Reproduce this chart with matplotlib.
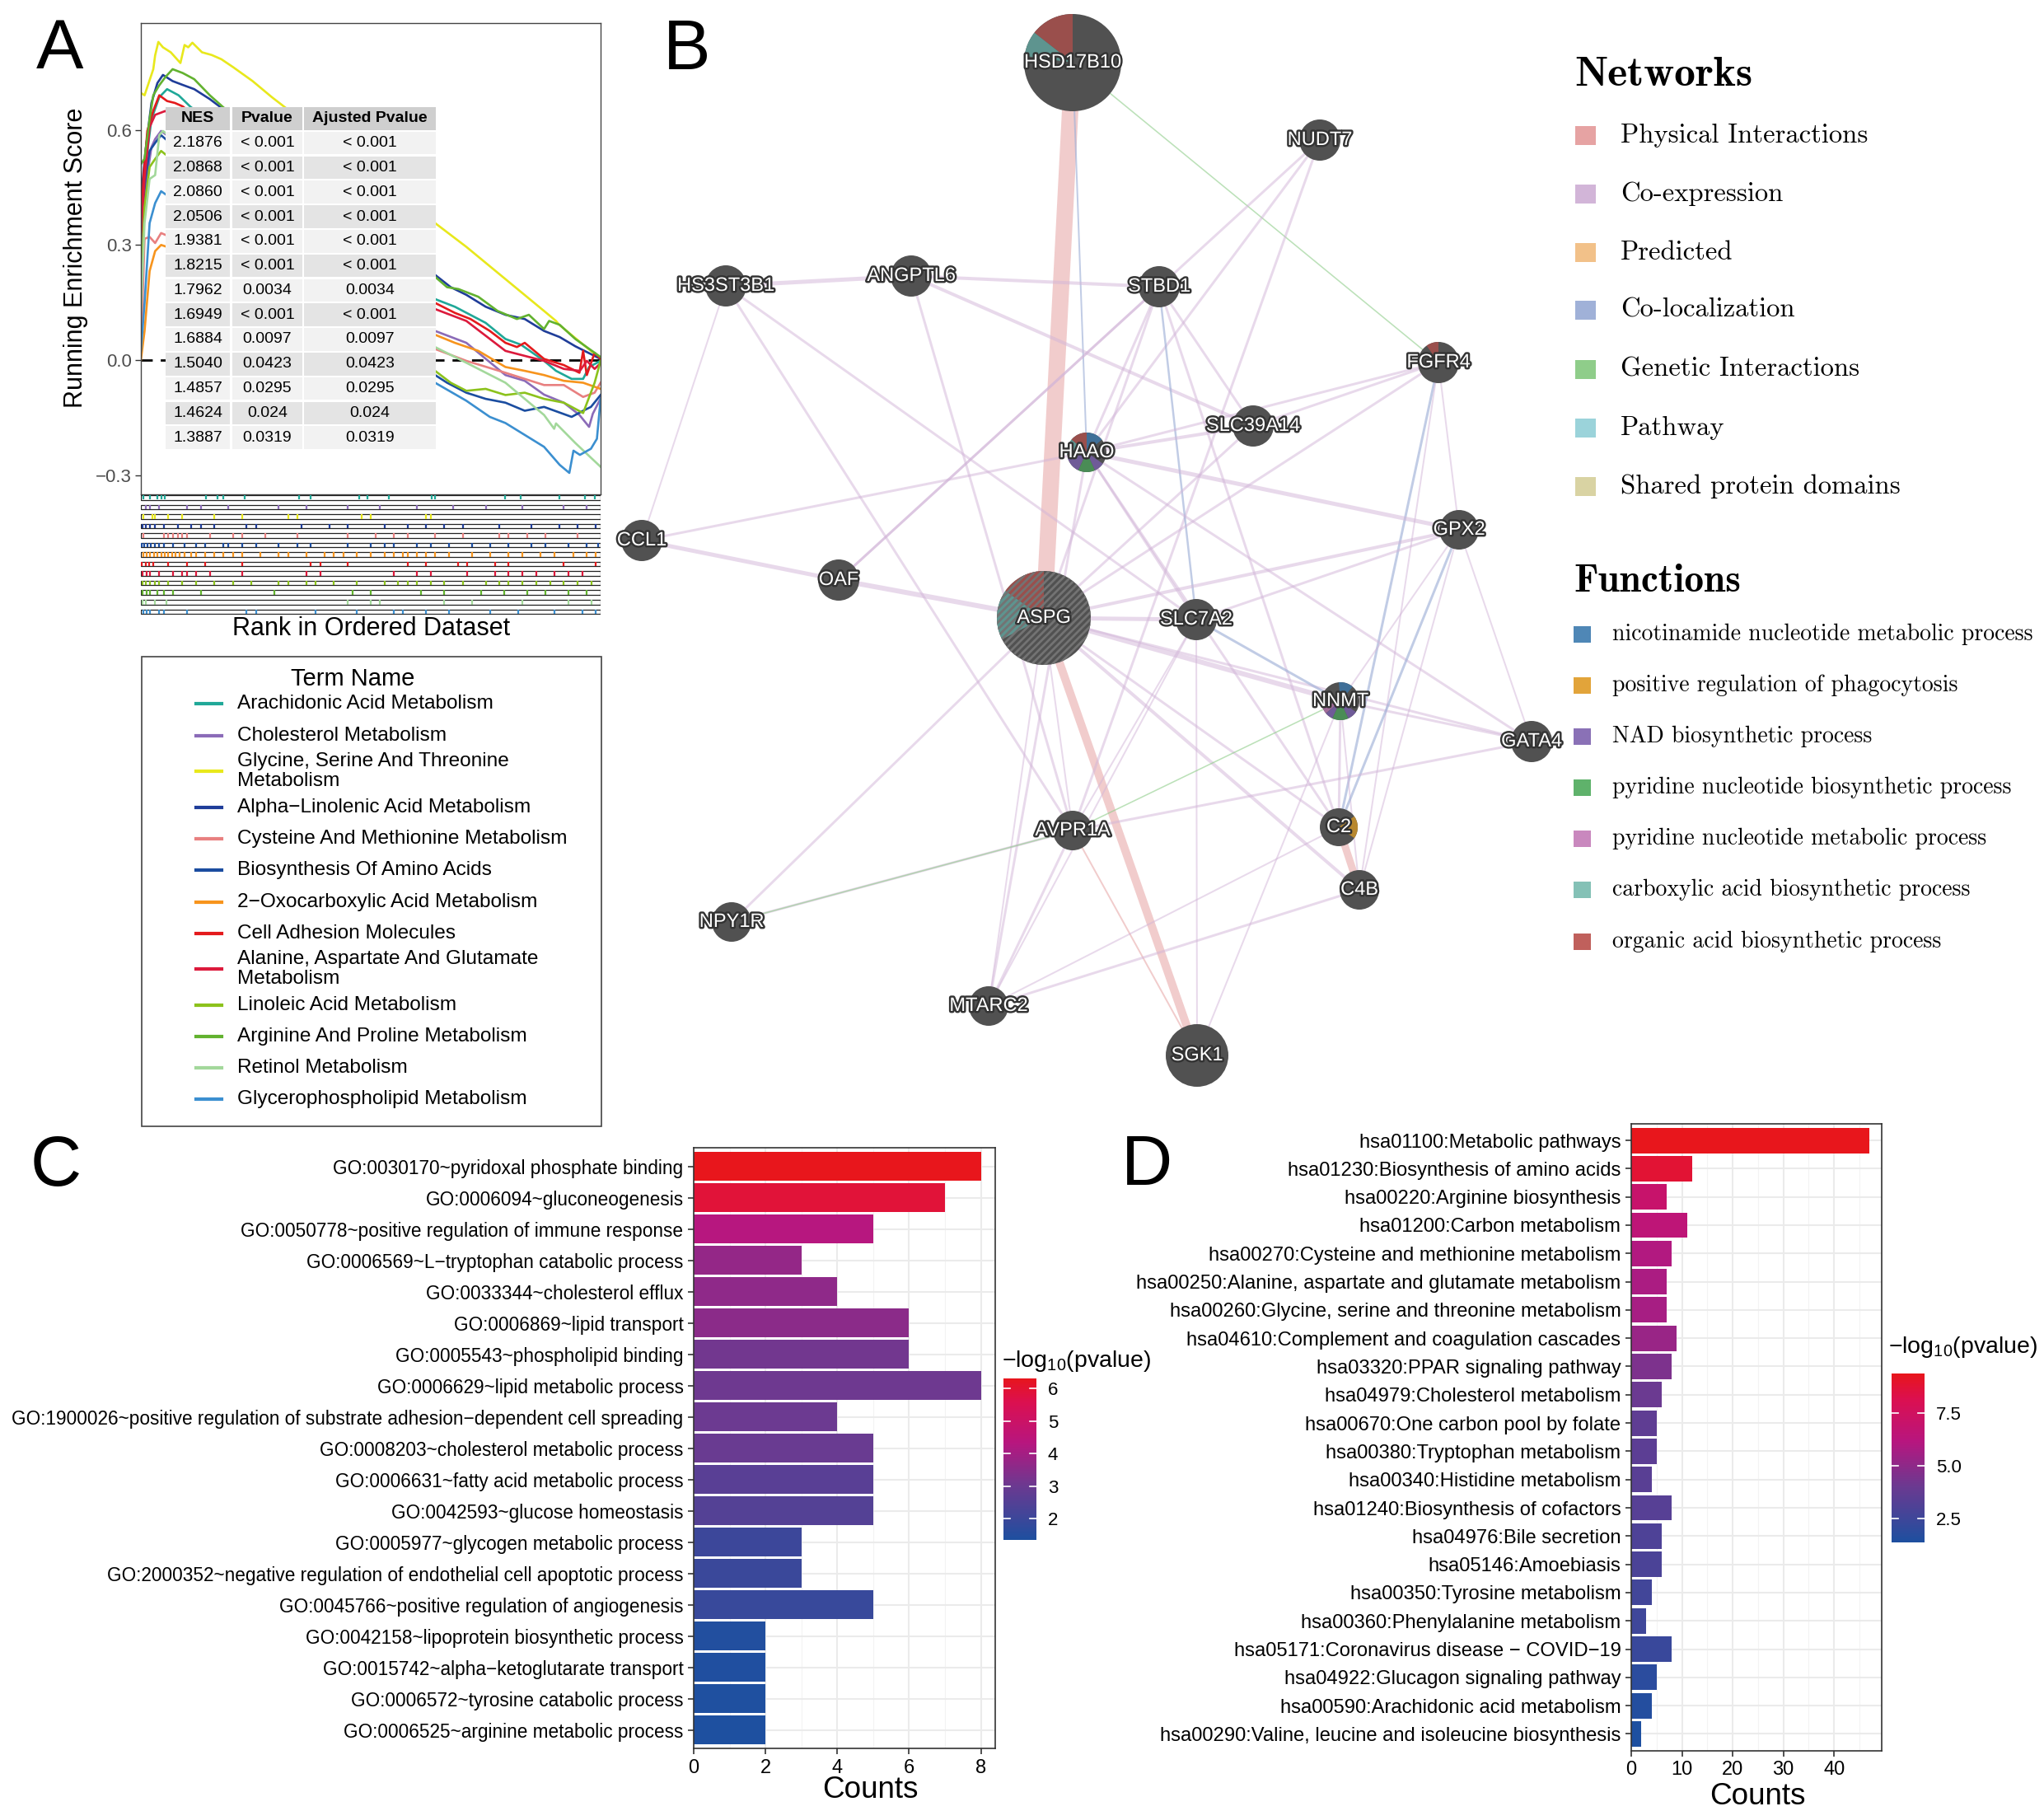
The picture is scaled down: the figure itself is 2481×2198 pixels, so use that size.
import matplotlib
matplotlib.use("Agg")
import matplotlib.pyplot as plt
import numpy as np
from matplotlib import font_manager as fm
from matplotlib.patches import Rectangle, Circle, Wedge
from matplotlib.colors import LinearSegmentedColormap, Normalize
import matplotlib.patheffects as pe

# ---------------- DATA ----------------
# Panel A: GSEA running enrichment scores (rank fraction, ES) per term
term_names = ["Arachidonic Acid Metabolism", "Cholesterol Metabolism",
              "Glycine, Serine And Threonine\nMetabolism", "Alpha\u2212Linolenic Acid Metabolism",
              "Cysteine And Methionine Metabolism", "Biosynthesis Of Amino Acids",
              "2\u2212Oxocarboxylic Acid Metabolism", "Cell Adhesion Molecules",
              "Alanine, Aspartate And Glutamate\nMetabolism", "Linoleic Acid Metabolism",
              "Arginine And Proline Metabolism", "Retinol Metabolism",
              "Glycerophospholipid Metabolism"]
term_colors = ['#20a898', '#8b6bb8', '#e8e81c', '#1f3d99', '#e88080', '#1b4da0', '#f7941d',
               '#e41a1c', '#dc1a3c', '#8cc21c', '#62b22f', '#a3d89b', '#3b8fd0']

es_x = [
    [0, 0.010, 0.023, 0.040, 0.057, 0.082, 0.107, 0.640, 0.683, 0.750, 0.793, 0.827, 0.877, 0.903, 0.937, 0.962, 0.975, 1.0],
    [0, 0.010, 0.023, 0.031, 0.044, 0.640, 0.708, 0.793, 0.835, 0.877, 0.920, 0.954, 0.975, 0.983, 1.0],
    [0, 0.008, 0.027, 0.031, 0.038, 0.048, 0.065, 0.086, 0.095, 0.103, 0.112, 0.133, 0.154, 0.175, 0.201, 0.243, 0.285, 0.640, 0.708, 0.793, 0.877, 0.903, 0.910, 1.0],
    [0, 0.010, 0.023, 0.036, 0.048, 0.069, 0.091, 0.116, 0.150, 0.171, 0.640, 0.674, 0.708, 0.750, 0.793, 0.835, 0.877, 0.911, 0.945, 1.0],
    [0, 0.008, 0.019, 0.031, 0.044, 0.640, 0.708, 0.793, 0.877, 0.920, 0.962, 0.987, 1.0],
    [0, 0.010, 0.019, 0.031, 0.044, 0.640, 0.666, 0.708, 0.750, 0.793, 0.835, 0.877, 0.937, 0.962, 0.979, 1.0],
    [0, 0.008, 0.019, 0.031, 0.044, 0.640, 0.683, 0.734, 0.793, 0.835, 0.877, 0.920, 0.962, 1.0],
    [0, 0.006, 0.014, 0.027, 0.040, 0.057, 0.074, 0.091, 0.640, 0.683, 0.717, 0.759, 0.793, 0.818, 0.835, 0.877, 0.920, 0.954, 0.962, 0.970, 0.987, 1.0],
    [0, 0.008, 0.019, 0.031, 0.053, 0.640, 0.708, 0.793, 0.877, 0.920, 0.955, 0.970, 0.987, 1.0],
    [0, 0.008, 0.019, 0.031, 0.044, 0.640, 0.674, 0.708, 0.750, 0.793, 0.835, 0.877, 0.920, 0.962, 0.987, 1.0],
    [0, 0.008, 0.019, 0.027, 0.040, 0.053, 0.069, 0.091, 0.116, 0.150, 0.179, 0.640, 0.666, 0.691, 0.734, 0.776, 0.818, 0.844, 0.877, 0.888, 0.911, 0.945, 1.0],
    [0, 0.008, 0.019, 0.031, 0.040, 0.048, 0.640, 0.708, 0.793, 0.877, 0.899, 0.903, 0.945, 1.0],
    [0, 0.008, 0.019, 0.031, 0.044, 0.640, 0.708, 0.759, 0.793, 0.835, 0.877, 0.911, 0.932, 0.941, 0.955, 0.979, 0.992, 1.0],
]
es_y = [
    [0.264, 0.503, 0.628, 0.685, 0.706, 0.690, 0.661, 0.159, 0.139, 0.097, 0.055, 0.040, -0.002, -0.028, -0.049, -0.049, -0.018, -0.002],
    [0.211, 0.451, 0.555, 0.576, 0.597, 0.076, 0.045, -0.039, -0.054, -0.090, -0.111, -0.143, -0.174, -0.140, -0.100],
    [0.696, 0.690, 0.758, 0.794, 0.829, 0.815, 0.802, 0.774, 0.821, 0.815, 0.827, 0.802, 0.795, 0.784, 0.763, 0.727, 0.685, 0.357, 0.295, 0.211, 0.128, 0.102, 0.092, 0.003],
    [0.420, 0.545, 0.670, 0.722, 0.743, 0.727, 0.717, 0.706, 0.680, 0.661, 0.222, 0.190, 0.170, 0.139, 0.118, 0.107, 0.076, 0.060, 0.036, 0.003],
    [0.024, 0.316, 0.321, 0.305, 0.331, 0.029, -0.002, -0.033, -0.065, -0.065, -0.096, -0.085, -0.059],
    [0.357, 0.472, 0.545, 0.566, 0.586, -0.039, -0.059, -0.085, -0.101, -0.111, -0.132, -0.122, -0.148, -0.132, -0.122, -0.091],
    [0.0, 0.076, 0.232, 0.284, 0.300, 0.066, 0.045, 0.024, -0.018, -0.028, -0.039, -0.054, -0.059, -0.075],
    [0.357, 0.480, 0.597, 0.650, 0.690, 0.675, 0.670, 0.661, 0.149, 0.123, 0.107, 0.076, 0.045, 0.034, 0.045, 0.003, -0.013, -0.033, 0.024, -0.039, 0.019, 0.003],
    [0.316, 0.472, 0.607, 0.639, 0.649, 0.133, 0.102, 0.024, -0.002, -0.023, -0.028, -0.002, -0.023, -0.008],
    [0.190, 0.399, 0.503, 0.524, 0.545, -0.028, -0.059, -0.080, -0.075, -0.091, -0.085, -0.101, -0.111, -0.138, -0.059, -0.002],
    [0.510, 0.525, 0.628, 0.690, 0.716, 0.737, 0.758, 0.748, 0.732, 0.690, 0.659, 0.217, 0.190, 0.185, 0.165, 0.128, 0.107, 0.118, 0.081, 0.102, 0.092, 0.055, 0.008],
    [0.128, 0.357, 0.472, 0.482, 0.586, 0.597, 0.034, -0.007, -0.059, -0.143, -0.179, -0.165, -0.216, -0.278],
    [0.024, 0.149, 0.357, 0.409, 0.440, -0.059, -0.106, -0.148, -0.164, -0.195, -0.226, -0.273, -0.294, -0.236, -0.247, -0.231, -0.205, -0.101],
]
# gene hit positions (rank fraction) per term
hits = [
    [0.006, 0.019, 0.036, 0.044, 0.052, 0.141, 0.167, 0.179, 0.226, 0.344, 0.37, 0.475, 0.492, 0.539, 0.632, 0.64, 0.793, 0.827, 0.911, 0.966, 0.987],
    [0.01, 0.02, 0.04, 0.1, 0.13, 0.19, 0.3, 0.36, 0.45, 0.52, 0.6, 0.68, 0.75, 0.83, 0.92, 0.97],
    [0.005, 0.025, 0.03, 0.06, 0.09, 0.16, 0.22, 0.32, 0.34, 0.48, 0.5, 0.62, 0.63],
    [0.003, 0.01, 0.02, 0.03, 0.05, 0.08, 0.11, 0.13, 0.16, 0.23, 0.25, 0.35, 0.41, 0.45, 0.53, 0.58, 0.62, 0.66, 0.7, 0.78, 0.85, 0.91, 0.95, 0.99],
    [0.005, 0.05, 0.06, 0.07, 0.08, 0.09, 0.1, 0.15, 0.2, 0.22, 0.27, 0.34, 0.45, 0.51, 0.55, 0.58, 0.64, 0.7, 0.78, 0.8, 0.84, 0.88, 0.95],
    [0.002, 0.008, 0.015, 0.022, 0.03, 0.04, 0.05, 0.07, 0.095, 0.12, 0.14, 0.18, 0.19, 0.22, 0.25, 0.3, 0.34, 0.37, 0.45, 0.5, 0.53, 0.55, 0.6, 0.63, 0.67, 0.72, 0.76, 0.8, 0.85, 0.88, 0.93, 0.97, 0.995],
    [0.005, 0.012, 0.02, 0.028, 0.036, 0.044, 0.052, 0.06, 0.068, 0.076, 0.085, 0.095, 0.11, 0.12, 0.14, 0.16, 0.18, 0.2, 0.22, 0.26, 0.3, 0.32, 0.36, 0.4, 0.42, 0.44, 0.47, 0.5, 0.53, 0.55, 0.57, 0.58, 0.6, 0.62, 0.64, 0.67, 0.72, 0.76, 0.8, 0.83, 0.87, 0.9, 0.94, 0.97, 0.99],
    [0.002, 0.01, 0.018, 0.026, 0.06, 0.1, 0.14, 0.22, 0.37, 0.39, 0.45, 0.58, 0.62, 0.69, 0.71, 0.77, 0.8, 0.92, 0.99],
    [0.004, 0.012, 0.02, 0.04, 0.07, 0.09, 0.1, 0.12, 0.15, 0.22, 0.36, 0.39, 0.55, 0.6, 0.63, 0.71, 0.77, 0.8, 0.83, 0.86, 0.9, 0.93, 0.96],
    [0.003, 0.01, 0.02, 0.03, 0.04, 0.06, 0.09, 0.12, 0.16, 0.2, 0.24, 0.3, 0.32, 0.36, 0.38, 0.42, 0.47, 0.53, 0.56, 0.58, 0.6, 0.63, 0.66, 0.7, 0.75, 0.78, 0.8, 0.83, 0.86, 0.89, 0.92, 0.95, 0.98],
    [0.004, 0.012, 0.02, 0.035, 0.05, 0.07, 0.13, 0.29, 0.46, 0.5, 0.61, 0.66, 0.74, 0.79, 0.84, 0.88, 0.93, 0.97],
    [0.003, 0.01, 0.03, 0.055, 0.45, 0.5, 0.52, 0.66, 0.72, 0.83, 0.93, 0.98],
    [0.005, 0.012, 0.02, 0.04, 0.05, 0.1, 0.23, 0.25, 0.38, 0.47, 0.55, 0.57, 0.62, 0.67, 0.76, 0.82, 0.9, 0.96, 0.99],
]
table_nes = ["2.1876", "2.0868", "2.0860", "2.0506", "1.9381", "1.8215", "1.7962", "1.6949",
             "1.6884", "1.5040", "1.4857", "1.4624", "1.3887"]
table_p = ["< 0.001", "< 0.001", "< 0.001", "< 0.001", "< 0.001", "< 0.001", "0.0034", "< 0.001",
           "0.0097", "0.0423", "0.0295", "0.024", "0.0319"]
table_padj = list(table_p)

# Panel B: network
node_names = ["HSD17B10", "NUDT7", "HS3ST3B1", "ANGPTL6", "STBD1", "FGFR4", "SLC39A14", "HAAO",
              "GPX2", "CCL1", "OAF", "ASPG", "SLC7A2", "NNMT", "GATA4", "C2", "AVPR1A", "C4B",
              "NPY1R", "MTARC2", "SGK1"]
node_x = [1302, 1602, 881, 1106, 1407, 1746, 1521, 1319, 1771, 779, 1018, 1267, 1452, 1627,
          1859, 1625, 1302, 1650, 888, 1200, 1453]
node_y = [76, 170, 347, 335, 348, 440, 517, 549, 643, 656, 704, 750, 752, 851, 900, 1004,
          1008, 1080, 1119, 1221, 1281]
node_size = [59, 25, 25, 25, 25, 25, 25, 24, 24, 25, 25, 57, 25, 23, 25, 23, 24, 24, 24, 24, 38]
edges = [
    ("HSD17B10", "ASPG", "Physical Interactions", 20), ("ASPG", "SGK1", "Physical Interactions", 10),
    ("C2", "C4B", "Physical Interactions", 9), ("AVPR1A", "SGK1", "Physical Interactions", 2),
    ("HSD17B10", "HAAO", "Co-localization", 2), ("HSD17B10", "FGFR4", "Genetic Interactions", 1.6),
    ("HS3ST3B1", "ANGPTL6", "Co-expression", 5), ("ANGPTL6", "STBD1", "Co-expression", 4),
    ("HS3ST3B1", "CCL1", "Co-expression", 2), ("HS3ST3B1", "SLC7A2", "Co-expression", 3),
    ("HS3ST3B1", "AVPR1A", "Co-expression", 3), ("ANGPTL6", "SLC39A14", "Co-expression", 4),
    ("ANGPTL6", "AVPR1A", "Co-expression", 3), ("NUDT7", "OAF", "Co-expression", 3),
    ("NUDT7", "HAAO", "Co-expression", 3), ("NUDT7", "AVPR1A", "Co-expression", 3),
    ("STBD1", "SLC39A14", "Co-expression", 3), ("STBD1", "SLC7A2", "Co-localization", 2.5),
    ("STBD1", "C2", "Co-expression", 3), ("STBD1", "ASPG", "Co-expression", 3),
    ("STBD1", "HAAO", "Co-expression", 3), ("OAF", "STBD1", "Co-expression", 3),
    ("FGFR4", "HAAO", "Co-expression", 3), ("FGFR4", "SLC39A14", "Co-expression", 3),
    ("FGFR4", "C2", "Co-localization", 3), ("FGFR4", "GPX2", "Co-expression", 2),
    ("FGFR4", "ASPG", "Co-expression", 3), ("FGFR4", "C4B", "Co-expression", 2),
    ("HAAO", "GPX2", "Co-expression", 5), ("HAAO", "GATA4", "Co-expression", 3),
    ("HAAO", "SLC39A14", "Co-expression", 4), ("HAAO", "CCL1", "Co-expression", 3),
    ("HAAO", "MTARC2", "Co-expression", 3), ("HAAO", "C2", "Co-expression", 3),
    ("HAAO", "SLC7A2", "Co-expression", 3), ("CCL1", "OAF", "Co-expression", 5),
    ("OAF", "ASPG", "Co-expression", 6), ("ASPG", "GPX2", "Co-expression", 4),
    ("ASPG", "NNMT", "Co-expression", 6), ("ASPG", "GATA4", "Co-expression", 3),
    ("ASPG", "C4B", "Co-expression", 4), ("ASPG", "SLC7A2", "Co-expression", 5),
    ("ASPG", "NPY1R", "Co-expression", 3), ("ASPG", "MTARC2", "Co-expression", 2),
    ("ASPG", "AVPR1A", "Co-expression", 2), ("ASPG", "C2", "Co-expression", 3),
    ("ASPG", "SLC39A14", "Co-expression", 3), ("SLC7A2", "NNMT", "Co-localization", 3),
    ("SLC7A2", "SGK1", "Co-expression", 2), ("SLC7A2", "GPX2", "Co-expression", 3),
    ("SLC7A2", "MTARC2", "Co-expression", 2), ("SLC7A2", "AVPR1A", "Co-expression", 2),
    ("NNMT", "GATA4", "Co-expression", 3), ("NNMT", "C2", "Co-expression", 3),
    ("NNMT", "C4B", "Co-expression", 2), ("NNMT", "AVPR1A", "Genetic Interactions", 1.6),
    ("NNMT", "SGK1", "Co-expression", 2), ("GPX2", "C2", "Co-localization", 3),
    ("GPX2", "NNMT", "Co-expression", 2), ("GPX2", "C4B", "Co-expression", 2),
    ("GPX2", "GATA4", "Co-expression", 2), ("GATA4", "AVPR1A", "Co-expression", 3),
    ("NPY1R", "AVPR1A", "Co-expression", 3), ("NPY1R", "AVPR1A", "Genetic Interactions", 1.6),
    ("MTARC2", "AVPR1A", "Co-expression", 3), ("MTARC2", "C4B", "Co-expression", 3),
    ("MTARC2", "C2", "Co-expression", 2),
]
network_types = ["Physical Interactions", "Co-expression", "Predicted", "Co-localization",
                 "Genetic Interactions", "Pathway", "Shared protein domains"]
network_colors = ['#e6a3a3', '#d2b5d8', '#f2c189', '#a0b1d8', '#8fcd8a', '#9bd3da', '#d9d3a3']
function_names = ["nicotinamide nucleotide metabolic process", "positive regulation of phagocytosis",
                  "NAD biosynthetic process", "pyridine nucleotide biosynthetic process",
                  "pyridine nucleotide metabolic process", "carboxylic acid biosynthetic process",
                  "organic acid biosynthetic process"]
function_colors = ['#4f87b6', '#e2a43a', '#8a71b6', '#5fb26b', '#c988be', '#84c1b6', '#c0605c']
pie_colors = ['#3f6f98', '#b8882f', '#6f5b98', '#4a8c56', '#a26c9a', '#5e948f', '#9a4f4c']
# (node, start deg, end deg, function index)
pie_slices = [("HSD17B10", 90, 142, 6), ("HSD17B10", 142, 172, 5),
              ("ASPG", 90, 145, 6), ("ASPG", 145, 207, 5),
              ("FGFR4", 90, 125, 6),
              ("HAAO", 40, 90, 0), ("HAAO", 90, 140, 6), ("HAAO", 140, 185, 5),
              ("HAAO", 195, 245, 2), ("HAAO", 245, 295, 3), ("HAAO", 295, 325, 2),
              ("NNMT", 50, 95, 0), ("NNMT", 195, 220, 4), ("NNMT", 220, 245, 2), ("NNMT", 245, 295, 3),
              ("NNMT", 295, 325, 2),
              ("C2", -35, 35, 1)]

# Panel C: GO terms
go_terms = ["GO:0030170~pyridoxal phosphate binding", "GO:0006094~gluconeogenesis",
            "GO:0050778~positive regulation of immune response", "GO:0006569~L\u2212tryptophan catabolic process",
            "GO:0033344~cholesterol efflux", "GO:0006869~lipid transport", "GO:0005543~phospholipid binding",
            "GO:0006629~lipid metabolic process",
            "GO:1900026~positive regulation of substrate adhesion\u2212dependent cell spreading",
            "GO:0008203~cholesterol metabolic process", "GO:0006631~fatty acid metabolic process",
            "GO:0042593~glucose homeostasis", "GO:0005977~glycogen metabolic process",
            "GO:2000352~negative regulation of endothelial cell apoptotic process",
            "GO:0045766~positive regulation of angiogenesis", "GO:0042158~lipoprotein biosynthetic process",
            "GO:0015742~alpha\u2212ketoglutarate transport", "GO:0006572~tyrosine catabolic process",
            "GO:0006525~arginine metabolic process"]
go_counts = [8, 7, 5, 3, 4, 6, 6, 8, 4, 5, 5, 5, 3, 3, 5, 2, 2, 2, 2]
go_logp = [6.32, 5.9, 4.3, 3.7, 3.6, 3.55, 3.1, 3.05, 3.0, 2.95, 2.6, 2.5, 2.0, 1.95, 1.9, 1.42, 1.39, 1.37, 1.34]

# Panel D: KEGG pathways
kegg_terms = ["hsa01100:Metabolic pathways", "hsa01230:Biosynthesis of amino acids",
              "hsa00220:Arginine biosynthesis", "hsa01200:Carbon metabolism",
              "hsa00270:Cysteine and methionine metabolism", "hsa00250:Alanine, aspartate and glutamate metabolism",
              "hsa00260:Glycine, serine and threonine metabolism", "hsa04610:Complement and coagulation cascades",
              "hsa03320:PPAR signaling pathway", "hsa04979:Cholesterol metabolism",
              "hsa00670:One carbon pool by folate", "hsa00380:Tryptophan metabolism",
              "hsa00340:Histidine metabolism", "hsa01240:Biosynthesis of cofactors",
              "hsa04976:Bile secretion", "hsa05146:Amoebiasis", "hsa00350:Tyrosine metabolism",
              "hsa00360:Phenylalanine metabolism", "hsa05171:Coronavirus disease \u2212 COVID\u221219",
              "hsa04922:Glucagon signaling pathway", "hsa00590:Arachidonic acid metabolism",
              "hsa00290:Valine, leucine and isoleucine biosynthesis"]
kegg_counts = [47, 12, 7, 11, 8, 7, 7, 9, 8, 6, 5, 5, 4, 8, 6, 6, 4, 3, 8, 5, 4, 2]
kegg_logp = [9.38, 8.8, 7.0, 6.5, 6.0, 5.8, 5.7, 5.3, 4.5, 4.0, 3.6, 3.5, 3.4, 3.3, 3.0, 2.9,
             2.6, 2.5, 2.3, 1.8, 1.6, 1.35]

# ---------------- STYLE / FONTS ----------------
W, H = 2481, 2198
names = {f.name for f in fm.fontManager.ttflist}
SANS = 'Liberation Sans' if 'Liberation Sans' in names else 'DejaVu Sans'
plt.rcParams['font.family'] = [SANS, 'DejaVu Sans']
plt.rcParams['mathtext.fontset'] = 'custom'
plt.rcParams['mathtext.rm'] = SANS
plt.rcParams['mathtext.it'] = SANS
plt.rcParams['hatch.linewidth'] = 2.0
PT = 0.72  # px -> pt at dpi 100

fig = plt.figure(figsize=(W / 100, H / 100), dpi=100)


def box(x0, y0, x1, y1):
    return [x0 / W, 1 - y1 / H, (x1 - x0) / W, (y1 - y0) / H]


# ---------------- PANEL A ----------------
axA = fig.add_axes(box(171, 27.6, 729, 599.6))
for i in range(len(term_names)):
    axA.plot(es_x[i], es_y[i], color=term_colors[i], lw=1.9, zorder=2 + i * 0.01)
axA.axhline(0, color='black', lw=2.0, ls=(0, (5, 3.5)), zorder=1.5)
axA.set_xlim(0, 1)
axA.set_ylim(-0.349, 0.879)
axA.set_xticks([])
axA.set_yticks([-0.3, 0.0, 0.3, 0.6])
axA.set_yticklabels(['\u22120.3', '0.0', '0.3', '0.6'])
axA.tick_params(axis='y', length=5, width=1, color='#333333', labelcolor='#4d4d4d', labelsize=16, pad=3)
for s in axA.spines.values():
    s.set_color('#444444')
    s.set_linewidth(1.0)

axR = fig.add_axes(box(171, 599.6, 729, 746))
axR.set_xlim(0, 1)
axR.set_ylim(746, 599.6)
axR.axis('off')
for i in range(len(term_names)):
    y0 = 601 + i * 11.55
    axR.vlines(hits[i], y0, y0 + 5.5, color=term_colors[i], lw=1.6)
    axR.add_patch(Rectangle((0, y0), 1, 5.5, fill=False, ec='#222222', lw=0.9))

# overlay for pixel-placed items
ov = fig.add_axes([0, 0, 1, 1])
ov.set_xlim(0, W)
ov.set_ylim(H, 0)
ov.axis('off')
ov.set_zorder(10)

# table in panel A
cols = [(200.6, 279.4), (282, 367), (369, 528.5)]
row_h = 29.8
headers = ["NES", "Pvalue", "Ajusted Pvalue"]
nrows = len(table_nes) + 1
ov.add_patch(Rectangle((cols[0][0], 130), cols[-1][1] - cols[0][0], nrows * row_h - 2.2,
                       fc='white', ec='none', zorder=2.9))
for r in range(nrows):
    y0 = 130 + r * row_h
    if r == 0:
        fc = '#cfcfcf'
    else:
        fc = '#f2f2f2' if r % 2 == 1 else '#e4e4e4'
    for c, (cx0, cx1) in enumerate(cols):
        ov.add_patch(Rectangle((cx0, y0), cx1 - cx0, row_h - 2.2, fc=fc, ec='none', zorder=3))
        if r == 0:
            ov.text((cx0 + cx1) / 2, y0 + (row_h - 2.2) / 2, headers[c], ha='center', va='center',
                    fontsize=14, fontweight='bold', zorder=4)
        else:
            txt = [table_nes, table_p, table_padj][c][r - 1]
            ov.text((cx0 + cx1) / 2, y0 + (row_h - 2.2) / 2, txt, ha='center', va='center',
                    fontsize=14, zorder=4)

ov.text(92, 313, "Running Enrichment Score", rotation=90, ha='center', va='center', fontsize=22)
ov.text(451, 763, "Rank in Ordered Dataset", ha='center', va='center', fontsize=22)

# legend of panel A
ov.add_patch(Rectangle((172, 797), 558, 570, fill=False, ec='#444444', lw=1.2))
ov.text(428, 824, "Term Name", ha='center', va='center', fontsize=21)
leg_y = [854, 893, 936, 980, 1018, 1056, 1095, 1133, 1176, 1220, 1258, 1296, 1334]
for i, nm in enumerate(term_names):
    ov.plot([238, 269], [leg_y[i], leg_y[i]], color=term_colors[i], lw=3)
    ov.text(288, leg_y[i], nm, ha='left', va='center', fontsize=17.6, linespacing=1.15)

# ---------------- PANEL B ----------------
idx = {n: i for i, n in enumerate(node_names)}
ecol = dict(zip(network_types, network_colors))
ealpha = {"Physical Interactions": 0.55, "Co-expression": 0.5, "Co-localization": 0.65,
          "Genetic Interactions": 0.6, "Predicted": 0.7, "Pathway": 0.7, "Shared protein domains": 0.7}
for a, b, t, w in edges:
    i, j = idx[a], idx[b]
    ov.plot([node_x[i], node_x[j]], [node_y[i], node_y[j]], color=ecol[t], lw=w * PT,
            alpha=ealpha[t], solid_capstyle='butt', zorder=1)
for i, n in enumerate(node_names):
    ov.add_patch(Circle((node_x[i], node_y[i]), node_size[i], fc='#515151', ec='none', zorder=3))
for n, a1, a2, f in pie_slices:
    i = idx[n]
    ov.add_patch(Wedge((node_x[i], node_y[i]), node_size[i], -a2, -a1, fc=pie_colors[f],
                       ec='none', zorder=3.2))
i = idx["ASPG"]
ov.add_patch(Circle((node_x[i], node_y[i]), node_size[i], fill=False, hatch='////',
                    ec='#737373', lw=0, zorder=3.4))
for i, n in enumerate(node_names):
    ov.text(node_x[i], node_y[i], n, ha='center', va='center', color='white', fontsize=17,
            zorder=5, path_effects=[pe.withStroke(linewidth=3.5, foreground='#333333')])

# legend of panel B
ov.text(1911, 92, "Networks", ha='left', va='center', fontsize=37, fontfamily='cmb10')
net_y = [164, 235, 306, 376, 448, 519, 590]
for k, nm in enumerate(network_types):
    ov.add_patch(Rectangle((1912, net_y[k] - 11.5), 25, 23, fc=network_colors[k], ec='none'))
    ov.text(1967, net_y[k], nm, ha='left', va='center', fontsize=23.5, fontfamily='cmr10')
ov.text(1910, 706, "Functions", ha='left', va='center', fontsize=34, fontfamily='cmb10')
fun_y = [770, 832, 894, 956, 1018, 1080, 1143]
for k, nm in enumerate(function_names):
    ov.add_patch(Rectangle((1910, fun_y[k] - 10), 21, 20, fc=function_colors[k], ec='none'))
    ov.text(1957, fun_y[k], nm, ha='left', va='center', fontsize=20, fontfamily='cmr10')

# panel labels
for lab, (px, py) in zip("ABCD", [(73, 61), (834, 62), (68, 1417), (1392, 1416)]):
    ov.text(px, py, lab, ha='center', va='center', fontsize=62)

# ---------------- PANELS C & D ----------------
cmap = LinearSegmentedColormap.from_list('bluered', [(0, '#1e50a0'), (0.33, '#6b3a91'),
                                                     (0.6, '#b8167f'), (0.85, '#dc1050'),
                                                     (1.0, '#e8161c')])


def barpanel(rect, terms, counts, logp, xmax, xmaj, xmin_ticks, labsize, cbox, cticks, clabels,
             ctitle_xy, counts_xy):
    ax = fig.add_axes(rect)
    n = len(terms)
    ypos = np.arange(n, 0, -1)
    vmin, vmax = min(logp), max(logp)
    norm = Normalize(vmin, vmax)
    ax.barh(ypos, counts, height=0.9, color=cmap(norm(np.array(logp))), zorder=2)
    ax.set_ylim(0.4, n + 0.6)
    ax.set_xlim(0, xmax)
    ax.set_yticks(ypos)
    ax.set_yticklabels(terms, fontsize=labsize)
    ax.set_xticks(xmaj)
    ax.set_xticklabels([str(v) for v in xmaj], fontsize=17)
    ax.set_xticks(xmin_ticks, minor=True)
    ax.tick_params(axis='both', which='major', length=5, width=1.2, color='#333333', pad=4)
    ax.tick_params(axis='x', which='minor', length=0)
    ax.grid(True, which='major', color='#ebebeb', lw=1.5)
    ax.grid(True, which='minor', axis='x', color='#f3f3f3', lw=0.8)
    ax.set_axisbelow(True)
    for s in ax.spines.values():
        s.set_color('#333333')
        s.set_linewidth(1.2)
    ov.text(counts_xy[0], counts_xy[1], "Counts", ha='center', va='center', fontsize=26.6)
    cax = fig.add_axes(cbox)
    grad = np.linspace(vmin, vmax, 256).reshape(-1, 1)
    cax.imshow(grad, aspect='auto', cmap=cmap, origin='lower', extent=[0, 1, vmin, vmax])
    cax.set_xlim(0, 1)
    cax.set_ylim(vmin, vmax)
    cax.set_xticks([])
    cax.yaxis.tick_right()
    cax.set_yticks(cticks)
    cax.set_yticklabels(clabels, fontsize=16)
    cax.tick_params(length=0, pad=10)
    for t in cticks:
        cax.plot([0, 0.2], [t, t], color='white', lw=1.2)
        cax.plot([0.8, 1], [t, t], color='white', lw=1.2)
    for s in cax.spines.values():
        s.set_visible(False)
    ov.text(ctitle_xy[0], ctitle_xy[1], r"$\mathrm{-log_{10}(pvalue)}$", ha='left', va='center',
            fontsize=20.5)
    return ax


barpanel(box(842, 1392.7, 1208, 2122.4), go_terms, go_counts, go_logp, 8.4,
         [0, 2, 4, 6, 8], [1, 3, 5, 7], 16.3, box(1218, 1672.5, 1258, 1869), [2, 3, 4, 5, 6],
         ['2', '3', '4', '5', '6'], (1216, 1652), (1056, 2172))
barpanel(box(1980, 1363.5, 2284, 2125), kegg_terms, kegg_counts, kegg_logp, 49.4,
         [0, 10, 20, 30, 40], [5, 15, 25, 35, 45], 17.1, box(2296, 1667, 2336, 1872), [2.5, 5.0, 7.5],
         ['2.5', '5.0', '7.5'], (2292, 1635), (2133, 2180))

fig.savefig("out.png", dpi=100)
